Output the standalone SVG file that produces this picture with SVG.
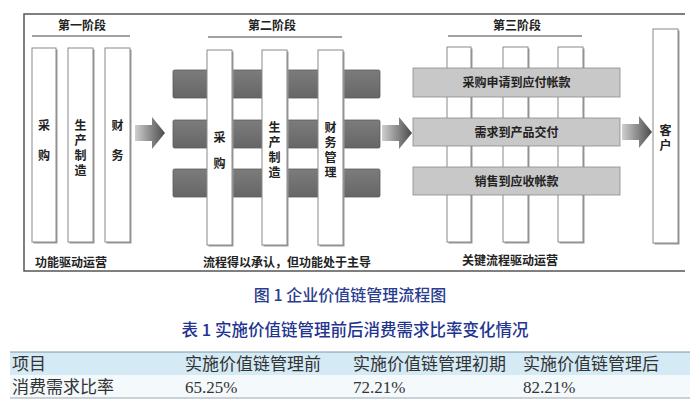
<svg xmlns="http://www.w3.org/2000/svg" width="698" height="410" viewBox="0 0 698 410">
<defs>
<linearGradient id="arrowGrad" x1="0" y1="0" x2="1" y2="0">
<stop offset="0" stop-color="#cfcfcf"/>
<stop offset="1" stop-color="#4a4a4a"/>
</linearGradient>
<linearGradient id="darkBar" x1="0" y1="0" x2="0" y2="1">
<stop offset="0" stop-color="#7c7c7c"/>
<stop offset="1" stop-color="#666"/>
</linearGradient>
<symbol id="arrow" viewBox="0 0 30 32" overflow="visible">
<path d="M0,8 H17 V0 L30,16 L17,32 V24 H0 Z" fill="url(#arrowGrad)"/>
</symbol>
</defs>
<style>
.frame{stroke:#555;stroke-width:1.5;fill:none}
.rule{stroke:#444;stroke-width:1.2}
.col{fill:#fff;stroke:#8a8a8a;stroke-width:1}
.colshadow{fill:#9a9a9a}
.dbar{fill:url(#darkBar);stroke:#5a5a5a;stroke-width:0.8}
.lbar{fill:#c8c8c8;stroke:#8a8a8a;stroke-width:0.8}
.t{font-family:"Noto Sans CJK SC","Noto Sans",sans-serif;font-weight:bold;font-size:12px;fill:#222;text-anchor:middle}
.v{font-family:"Noto Sans CJK SC","Noto Sans",sans-serif;font-weight:bold;font-size:12px;fill:#222;writing-mode:vertical-rl;text-anchor:start}
.cap{font-family:"Noto Sans CJK SC","Noto Sans",sans-serif;font-size:16px;fill:#2a3d8f;text-anchor:middle;font-weight:500}
.cap2{font-family:"Noto Sans CJK SC","Noto Sans",sans-serif;font-size:16.5px;fill:#1f3590;text-anchor:middle;font-weight:500}
.tb{font-family:"Liberation Serif","Noto Sans CJK SC",serif;font-size:17px;fill:#333}
</style>

<g id="frame">
<path class="frame" d="M685,14 H24 V271 H685"/>
</g>

<g id="stage1">
<text class="t" x="82" y="29.5">第一阶段</text>
<line class="rule" x1="32" y1="36" x2="130" y2="36"/>
<rect class="colshadow" x="33.5" y="49.5" width="24" height="194"/>
<rect class="col" x="32" y="48" width="24" height="194"/>
<rect class="colshadow" x="69.5" y="49.5" width="25" height="194"/>
<rect class="col" x="68" y="48" width="25" height="194"/>
<rect class="colshadow" x="106.5" y="49.5" width="25" height="194"/>
<rect class="col" x="105" y="48" width="25" height="194"/>
<text class="v" x="44" y="119" letter-spacing="18">采购</text>
<text class="v" x="80.5" y="119" letter-spacing="3">生产制造</text>
<text class="v" x="117.5" y="119" letter-spacing="18">财务</text>
<text class="t" x="71" y="266.5">功能驱动运营</text>
</g>

<g id="stage2">
<text class="t" x="272" y="29.5">第二阶段</text>
<line class="rule" x1="208" y1="37" x2="342" y2="37"/>
<rect class="dbar" x="173" y="70" width="207" height="28" rx="1.5"/>
<rect class="dbar" x="173" y="120" width="207" height="28" rx="1.5"/>
<rect class="dbar" x="173" y="169" width="207" height="28" rx="1.5"/>
<rect class="colshadow" x="208.5" y="51.5" width="25" height="195"/>
<rect class="col" x="207" y="50" width="25" height="195"/>
<rect class="colshadow" x="263.5" y="51.5" width="25" height="195"/>
<rect class="col" x="262" y="50" width="25" height="195"/>
<rect class="colshadow" x="319.5" y="51.5" width="25" height="195"/>
<rect class="col" x="318" y="50" width="25" height="195"/>
<text class="v" x="219.5" y="131" letter-spacing="14">采购</text>
<text class="v" x="274.5" y="121" letter-spacing="3">生产制造</text>
<text class="v" x="330.5" y="121" letter-spacing="3">财务管理</text>
<text class="t" x="287" y="266.5">流程得以承认，但功能处于主导</text>
</g>

<g id="stage3">
<text class="t" x="517" y="29.5">第三阶段</text>
<line class="rule" x1="448" y1="36" x2="582" y2="36"/>
<rect class="colshadow" x="448.5" y="48.5" width="24" height="195"/>
<rect class="col" x="447" y="47" width="24" height="195"/>
<rect class="colshadow" x="504.5" y="48.5" width="25" height="195"/>
<rect class="col" x="503" y="47" width="25" height="195"/>
<rect class="colshadow" x="559.5" y="48.5" width="25" height="195"/>
<rect class="col" x="558" y="47" width="25" height="195"/>
<rect class="lbar" x="413" y="68" width="207" height="29"/>
<rect class="lbar" x="413" y="118" width="207" height="28"/>
<rect class="lbar" x="413" y="167" width="207" height="28"/>
<text class="t" x="516.5" y="87">采购申请到应付帐款</text>
<text class="t" x="516.5" y="136.5">需求到产品交付</text>
<text class="t" x="516.5" y="185.5">销售到应收帐款</text>
<text class="t" x="510" y="264.5">关键流程驱动运营</text>
</g>

<g id="customer">
<rect class="colshadow" x="654.5" y="30.5" width="25" height="214"/>
<rect class="col" x="653" y="29" width="25" height="214"/>
<text class="v" x="665.5" y="124" letter-spacing="3">客户</text>
</g>

<g id="connectors">
<use href="#arrow" x="135" y="117" width="30" height="32"/>
<use href="#arrow" x="382" y="117" width="30" height="32"/>
<use href="#arrow" x="622" y="116" width="30" height="32"/>
</g>

<g id="captions">
<text class="cap" x="350" y="300.5">图 1 企业价值链管理流程图</text>
<text class="cap2" x="355" y="336">表 1 实施价值链管理前后消费需求比率变化情况</text>
</g>

<g id="table">
<rect x="10" y="352" width="680" height="23" fill="#d4eaf5"/>
<rect x="10" y="375" width="680" height="23" fill="#f4f9fc"/>
<line x1="10" y1="352" x2="690" y2="352" stroke="#7f98a8" stroke-width="1"/>
<line x1="10" y1="398" x2="690" y2="398" stroke="#9aa8b2" stroke-width="1"/>
<text class="tb" x="12" y="370">项目</text>
<text class="tb" x="185" y="370">实施价值链管理前</text>
<text class="tb" x="353" y="370">实施价值链管理初期</text>
<text class="tb" x="523" y="370">实施价值链管理后</text>
<text class="tb" x="12" y="393">消费需求比率</text>
<text class="tb" x="185" y="393">65.25%</text>
<text class="tb" x="353" y="393">72.21%</text>
<text class="tb" x="523" y="393">82.21%</text>
</g>
</svg>
